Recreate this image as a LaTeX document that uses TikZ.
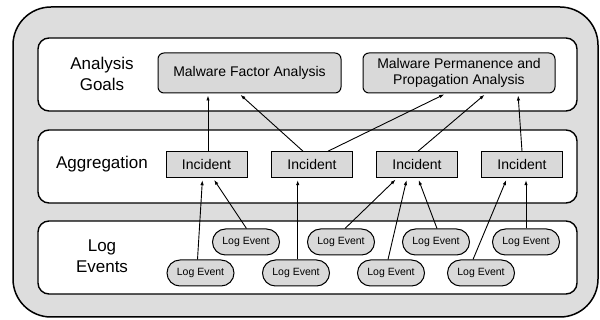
\documentclass[tikz,border=0pt]{standalone}
\usepackage{fontspec}
\setmainfont{Liberation Sans}
\usetikzlibrary{arrows.meta,shapes.misc}
\definecolor{bg}{RGB}{221,221,221}
\definecolor{boxfill}{RGB}{217,217,217}
\tikzset{
  outerbox/.style={draw=black, line width=1.5pt, fill=bg, rounded corners=38pt},
  band/.style={draw=black, line width=1.4pt, fill=white, rounded corners=11pt},
  bandlabel/.style={align=center, font=\fontsize{17}{21}\selectfont},
  goalbox/.style={draw=black, line width=1pt, fill=boxfill, rounded corners=6pt, minimum width=183pt, minimum height=40pt, align=center, font=\fontsize{14}{16.7}\selectfont, inner sep=0pt},
  incbox/.style={draw=black, line width=1pt, fill=boxfill, minimum width=81pt, minimum height=26pt, font=\fontsize{14}{16}\selectfont, inner sep=0pt},
  logbox/.style={draw=black, line width=1pt, fill=boxfill, rounded rectangle, minimum width=67pt, minimum height=26pt, font=\fontsize{10.5}{12}\selectfont, inner sep=0pt},
  arr/.style={line width=0.9pt, -{Latex[length=5pt,width=3.5pt]}, shorten >=2pt}
}
\begin{document}
\begin{tikzpicture}[x=1pt,y=-1pt]
\useasboundingbox (0,0) rectangle (600,320);
\draw[outerbox] (13,7) rectangle (598,317);
\draw[band] (38,38) rectangle (577,111);
\draw[band] (38,130) rectangle (577,203);
\draw[band] (38,221) rectangle (577,294);

\node[bandlabel] (lg) at (102,73.5) {Analysis\\Goals};
\node[bandlabel] (la) at (102,164) {Aggregation};
\node[bandlabel] (ll) at (102,256) {Log\\Events};

\node[goalbox] (mfa) at (249.5,73) {Malware Factor Analysis};
\node[goalbox, minimum width=192pt] (mpa) at (459,73) {Malware Permanence and\\Propagation Analysis};

\node[incbox] (i1) at (206.5,164.7) {Incident};
\node[incbox] (i2) at (312,164.7) {Incident};
\node[incbox] (i3) at (417,164.7) {Incident};
\node[incbox] (i4) at (522,164.7) {Incident};

\node[logbox] (u1) at (246,242) {Log Event};
\node[logbox] (u2) at (341,242) {Log Event};
\node[logbox] (u3) at (436,242) {Log Event};
\node[logbox] (u4) at (526,242) {Log Event};
\node[logbox] (d1) at (200.5,273) {Log Event};
\node[logbox] (d2) at (296,273) {Log Event};
\node[logbox] (d3) at (391,273) {Log Event};
\node[logbox] (d4) at (481,273) {Log Event};

% incidents to goals
\draw[arr] ([xshift=1.5pt]i1.north) -- ([xshift=-41.5pt]mfa.south);
\draw[arr] ([xshift=-9pt]i2.north) -- ([xshift=-10.5pt]mfa.south);
\draw[arr] ([xshift=16pt]i2.north) -- ([xshift=-13pt]mpa.south);
\draw[arr] ([xshift=1pt]i3.north) -- ([xshift=27pt]mpa.south);
\draw[arr] ([xshift=0pt]i4.north) -- ([xshift=59pt]mpa.south);

% log events to incidents
\draw[arr] ([xshift=-3pt]d1.north) -- ([xshift=-4pt]i1.south);
\draw[arr] ([xshift=0.5pt]u1.north) -- ([xshift=6.5pt]i1.south);
\draw[arr] ([xshift=1.7pt]d2.north) -- ([xshift=-14.3pt]i2.south);
\draw[arr] ([xshift=4pt]u2.north) -- ([xshift=-20pt]i3.south);
\draw[arr] ([xshift=-3pt]d3.north) -- ([xshift=-10pt]i3.south);
\draw[arr] ([xshift=1pt]u3.north) -- ([xshift=1pt]i3.south);
\draw[arr] ([xshift=-8pt]d4.north) -- ([xshift=-15pt]i4.south);
\draw[arr] ([xshift=0pt]u4.north) -- ([xshift=4pt]i4.south);
\end{tikzpicture}
\end{document}
